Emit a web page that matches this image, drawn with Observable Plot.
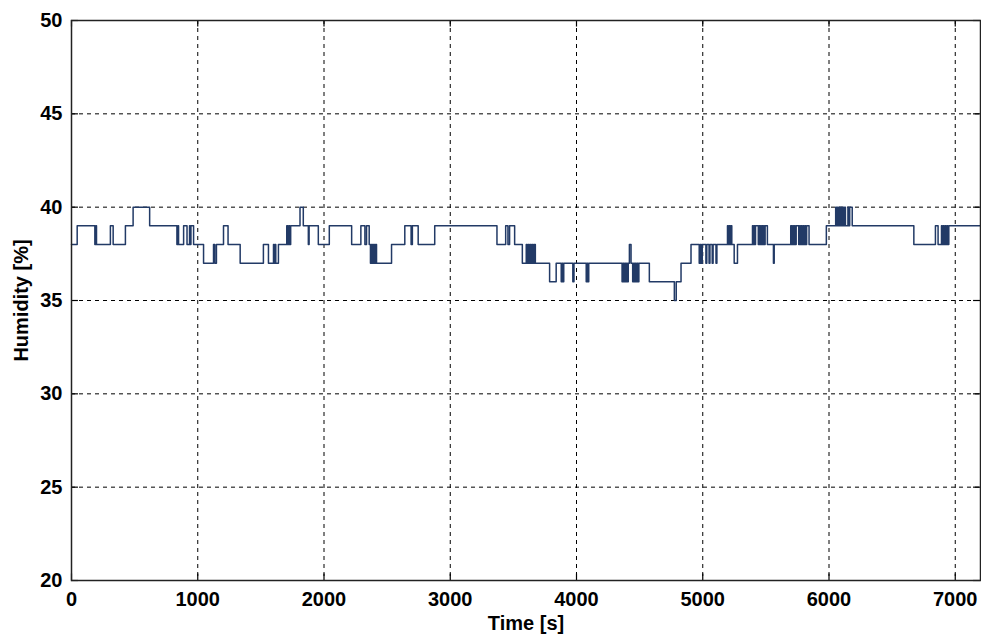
<!DOCTYPE html>
<html>
<head>
<meta charset="utf-8">
<script src="https://cdn.jsdelivr.net/npm/d3@7"></script>
<script src="https://cdn.jsdelivr.net/npm/@observablehq/plot@0.6"></script>
<style>
  html, body { margin: 0; padding: 0; background: #fff; }
  #chart { width: 981px; height: 637px; }
</style>
</head>
<body>
<div id="chart"></div>
<script>
// Humidity log: each entry marks the time (s) at which the reading changed
// and the new reading (%), held until the next change.
const timeS = [
  0, 45, 185, 192, 198, 308, 330, 427, 488, 619,
  835, 842, 848, 888, 915, 935, 940, 946, 967, 1046,
  1125, 1135, 1148, 1204, 1240, 1336, 1520, 1560, 1600, 1605,
  1612, 1618, 1639, 1705, 1712, 1720, 1728, 1736, 1810, 1836,
  1876, 1882, 1955, 2042, 2219, 2292, 2324, 2337, 2358, 2368,
  2376, 2384, 2392, 2400, 2408, 2416, 2535, 2640, 2690, 2700,
  2746, 2877, 3370, 3439, 3457, 3470, 3510, 3571, 3602, 3610,
  3618, 3626, 3634, 3642, 3650, 3658, 3666, 3674, 3787, 3839,
  3879, 3886, 3892, 3899, 3971, 3980, 4077, 4083, 4089, 4097,
  4361, 4368, 4375, 4382, 4389, 4396, 4403, 4410, 4419, 4432,
  4445, 4452, 4459, 4466, 4473, 4480, 4487, 4494, 4577, 4775,
  4790, 4828, 4907, 4972, 4980, 4988, 4996, 5025, 5032, 5050,
  5057, 5075, 5082, 5105, 5112, 5196, 5203, 5210, 5217, 5223,
  5230, 5249, 5275, 5394, 5400, 5406, 5412, 5418, 5440, 5446,
  5452, 5458, 5464, 5470, 5476, 5482, 5488, 5494, 5512, 5560,
  5566, 5697, 5705, 5712, 5719, 5726, 5733, 5740, 5760, 5767,
  5774, 5781, 5788, 5795, 5802, 5809, 5816, 5823, 5842, 5979,
  6053, 6060, 6067, 6074, 6081, 6088, 6095, 6102, 6109, 6116,
  6123, 6130, 6150, 6157, 6164, 6184, 6672, 6843, 6864, 6891,
  6898, 6905, 6912, 6919, 6926, 6933, 6940, 6949, 7200
];
const humidity = [
  38, 39, 38, 39, 38, 39, 38, 39, 40, 39,
  38, 39, 38, 39, 38, 39, 38, 39, 38, 37,
  38, 37, 38, 39, 38, 37, 38, 37, 38, 37,
  38, 37, 38, 39, 38, 39, 38, 39, 40, 39,
  38, 39, 38, 39, 38, 39, 38, 39, 38, 37,
  38, 37, 38, 37, 38, 37, 38, 39, 38, 39,
  38, 39, 38, 39, 38, 39, 38, 37, 38, 37,
  38, 37, 38, 37, 38, 37, 38, 37, 36, 37,
  36, 37, 36, 37, 36, 37, 36, 37, 36, 37,
  36, 37, 36, 37, 36, 37, 36, 37, 38, 37,
  36, 37, 36, 37, 36, 37, 36, 37, 36, 35,
  36, 37, 38, 37, 38, 37, 38, 37, 38, 37,
  38, 37, 38, 37, 38, 39, 38, 39, 38, 39,
  38, 37, 38, 39, 38, 39, 38, 39, 38, 39,
  38, 39, 38, 39, 38, 39, 38, 39, 38, 37,
  38, 39, 38, 39, 38, 39, 38, 39, 38, 39,
  38, 39, 38, 39, 38, 39, 38, 39, 38, 39,
  40, 39, 40, 39, 40, 39, 40, 39, 40, 39,
  40, 39, 40, 39, 40, 39, 38, 39, 38, 39,
  38, 39, 38, 39, 38, 39, 38, 39, 39
];

const xTicks = [0, 1000, 2000, 3000, 4000, 5000, 6000, 7000];
const yTicks = [20, 25, 30, 35, 40, 45, 50];
const xDomain = [0, 7200];
const yDomain = [20, 50];

const tickLenX = 55;   // inward tick length in seconds
const tickLenY = 0.35; // inward tick length in %

const font = "'Liberation Sans', Arial, Helvetica, sans-serif";

const chart = Plot.plot({
  width: 981,
  height: 637,
  marginLeft: 71,
  marginRight: 1,
  marginTop: 20,
  marginBottom: 57,
  style: {fontFamily: font, fontSize: "20px", fontWeight: "bold", color: "#000", background: "#fff"},
  x: {domain: xDomain},
  y: {domain: yDomain},
  marks: [
    // dashed grid
    Plot.gridX(xTicks.slice(1), {stroke: "#000", strokeOpacity: 1, strokeWidth: 1, strokeDasharray: "4,4"}),
    Plot.gridY(yTicks.slice(1, -1), {stroke: "#000", strokeOpacity: 1, strokeWidth: 1, strokeDasharray: "4,4"}),
    // the humidity trace
    Plot.line(timeS, {x: timeS, y: humidity, curve: "step-after", stroke: "#223a66", strokeWidth: 1.5}),
    // inward ticks on all four sides
    Plot.ruleX(xTicks, {y1: yDomain[0], y2: yDomain[0] + tickLenY, stroke: "#000", strokeWidth: 1.2}),
    Plot.ruleX(xTicks, {y1: yDomain[1], y2: yDomain[1] - tickLenY, stroke: "#000", strokeWidth: 1.2}),
    Plot.ruleY(yTicks, {x1: xDomain[0], x2: xDomain[0] + tickLenX, stroke: "#000", strokeWidth: 1.2}),
    Plot.ruleY(yTicks, {x1: xDomain[1], x2: xDomain[1] - tickLenX, stroke: "#000", strokeWidth: 1.2}),
    Plot.frame({stroke: "#222", strokeWidth: 1.5}),
    Plot.axisX({
      ticks: xTicks, tickSize: 0, tickPadding: 11, tickFormat: d => String(d),
      label: "Time [s]", labelAnchor: "center", labelArrow: "none", labelOffset: 49
    }),
    Plot.axisY({
      ticks: yTicks, tickSize: 0, tickPadding: 9, tickFormat: d => String(d),
      label: "Humidity [%]", labelAnchor: "center", labelArrow: "none", labelOffset: 58
    })
  ]
});

document.getElementById("chart").appendChild(chart);
</script>
</body>
</html>
